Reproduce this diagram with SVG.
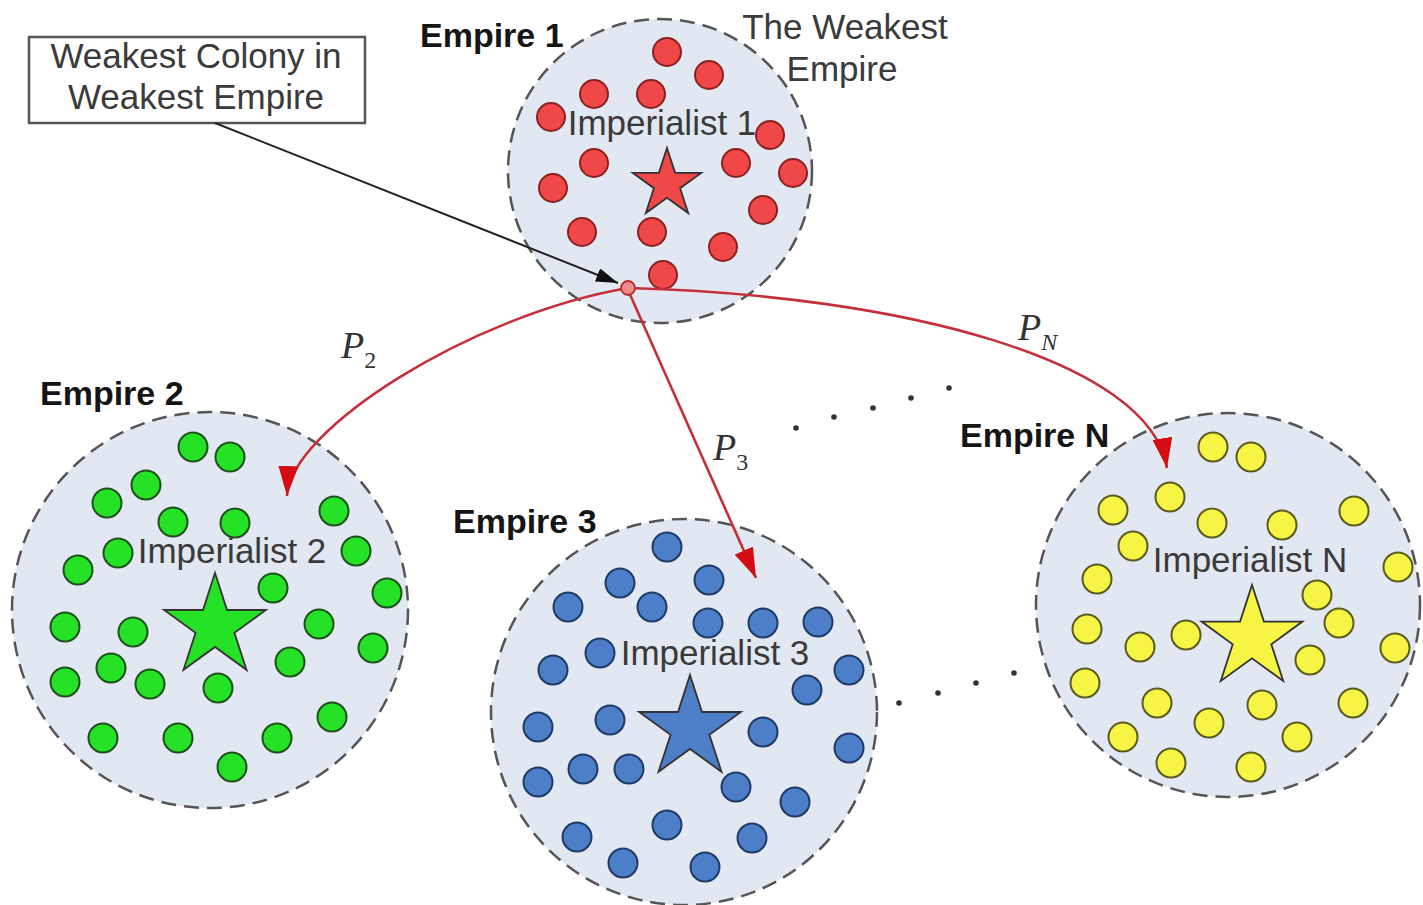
<svg xmlns="http://www.w3.org/2000/svg" width="1423" height="905" viewBox="0 0 1423 905">
<defs>
<style>
.emp{fill:#e2e8f1;stroke:#555;stroke-width:2.5;stroke-dasharray:15 8}
.r{fill:#f04848;stroke:#8a2020;stroke-width:2}
.g{fill:#26e226;stroke:#1c501c;stroke-width:2}
.b{fill:#4d7ec8;stroke:#1f3a66;stroke-width:2}
.y{fill:#f6f444;stroke:#5a5a20;stroke-width:2}
.star{stroke:#333;stroke-width:1.8;stroke-linejoin:miter}
.lbl{font-family:"Liberation Sans",Arial,sans-serif;font-size:35px;fill:#3a3a3a}
.bold{font-family:"Liberation Sans",Arial,sans-serif;font-size:34px;font-weight:bold;fill:#151515}
.math{font-family:"Liberation Serif","Times New Roman",serif;font-style:italic;font-size:38px;fill:#333}
.sub{font-size:24px}
.red{fill:none;stroke:#c4303a;stroke-width:2.6}
.dot{fill:#333}
</style>
<marker id="ah" markerUnits="userSpaceOnUse" viewBox="0 0 30 20" refX="30" refY="10" markerWidth="30" markerHeight="20" orient="auto">
<path d="M0,0 L30,10 L0,20 z" fill="#d40d12"/>
</marker>
<marker id="bh" markerUnits="userSpaceOnUse" viewBox="0 0 22 14" refX="22" refY="7" markerWidth="22" markerHeight="14" orient="auto">
<path d="M0,0 L22,7 L0,14 z" fill="#111"/>
</marker>
</defs>
<rect x="0" y="0" width="1423" height="905" fill="#fff"/>

<g id="empire1">
<circle class="emp" cx="660" cy="171" r="152"/>
<g class="r">
<circle cx="667" cy="52" r="14"/><circle cx="709" cy="75" r="14"/><circle cx="594" cy="94" r="14"/><circle cx="651" cy="94" r="14"/>
<circle cx="551" cy="117" r="14"/><circle cx="770" cy="135" r="14"/><circle cx="594" cy="163" r="14"/><circle cx="736" cy="163" r="14"/>
<circle cx="793" cy="173" r="14"/><circle cx="553" cy="188" r="14"/><circle cx="763" cy="210" r="14"/><circle cx="582" cy="232" r="14"/>
<circle cx="652" cy="232" r="14"/><circle cx="723" cy="247" r="14"/><circle cx="663" cy="275" r="14"/>
</g>
<polygon class="star" fill="#f04848" points="667,148 675.1,172.9 701.2,172.9 680.1,188.2 688.2,213.1 667,197.75 645.8,213.1 653.9,188.2 632.8,172.9 658.9,172.9"/>
<text class="lbl" x="662" y="135" text-anchor="middle">Imperialist 1</text>
<text class="bold" x="420" y="47">Empire 1</text>
<text class="lbl" x="845" y="39" text-anchor="middle">The Weakest</text>
<text class="lbl" x="842" y="81" text-anchor="middle">Empire</text>
</g>

<g id="empire2">
<circle class="emp" cx="210" cy="610" r="198"/>
<g class="g">
<circle cx="193" cy="447" r="14.5"/><circle cx="230" cy="457" r="14.5"/><circle cx="146" cy="485" r="14.5"/><circle cx="107" cy="503" r="14.5"/>
<circle cx="334" cy="511" r="14.5"/><circle cx="173" cy="522" r="14.5"/><circle cx="235" cy="523" r="14.5"/><circle cx="118" cy="553" r="14.5"/>
<circle cx="356" cy="551" r="14.5"/><circle cx="78" cy="570" r="14.5"/><circle cx="273" cy="588" r="14.5"/><circle cx="387" cy="593" r="14.5"/>
<circle cx="65" cy="627" r="14.5"/><circle cx="133" cy="632" r="14.5"/><circle cx="319" cy="624" r="14.5"/><circle cx="373" cy="648" r="14.5"/>
<circle cx="290" cy="662" r="14.5"/><circle cx="111" cy="668" r="14.5"/><circle cx="65" cy="682" r="14.5"/><circle cx="150" cy="684" r="14.5"/>
<circle cx="218" cy="688" r="14.5"/><circle cx="332" cy="717" r="14.5"/><circle cx="103" cy="738" r="14.5"/><circle cx="178" cy="738" r="14.5"/>
<circle cx="277" cy="738" r="14.5"/><circle cx="232" cy="767" r="14.5"/>
</g>
<polygon class="star" fill="#26e226" points="215,573 227,610 265.9,610 234.4,632.8 246.5,669.8 215,646.9 183.5,669.8 195.6,632.8 164.1,610 203,610"/>
<text class="lbl" x="232" y="563" text-anchor="middle">Imperialist 2</text>
<text class="bold" x="40" y="405">Empire 2</text>
</g>

<g id="empire3">
<circle class="emp" cx="684" cy="712" r="193"/>
<g class="b">
<circle cx="667" cy="547" r="14.5"/><circle cx="620" cy="583" r="14.5"/><circle cx="709" cy="580" r="14.5"/><circle cx="568" cy="607" r="14.5"/>
<circle cx="652" cy="607" r="14.5"/><circle cx="708" cy="623" r="14.5"/><circle cx="763" cy="623" r="14.5"/><circle cx="818" cy="622" r="14.5"/>
<circle cx="600" cy="653" r="14.5"/><circle cx="553" cy="670" r="14.5"/><circle cx="849" cy="670" r="14.5"/><circle cx="807" cy="690" r="14.5"/>
<circle cx="538" cy="727" r="14.5"/><circle cx="610" cy="720" r="14.5"/><circle cx="763" cy="732" r="14.5"/><circle cx="849" cy="748" r="14.5"/>
<circle cx="538" cy="782" r="14.5"/><circle cx="583" cy="769" r="14.5"/><circle cx="629" cy="769" r="14.5"/><circle cx="736" cy="787" r="14.5"/>
<circle cx="795" cy="802" r="14.5"/><circle cx="667" cy="825" r="14.5"/><circle cx="577" cy="837" r="14.5"/><circle cx="752" cy="838" r="14.5"/>
<circle cx="623" cy="863" r="14.5"/><circle cx="705" cy="867" r="14.5"/>
</g>
<polygon class="star" fill="#4d7ec8" points="690,675 702,712 740.9,712 709.4,734.8 721.5,771.8 690,748.9 658.5,771.8 670.6,734.8 639.1,712 678,712"/>
<text class="lbl" x="715" y="665" text-anchor="middle">Imperialist 3</text>
<text class="bold" x="453" y="533">Empire 3</text>
</g>

<g id="empireN">
<circle class="emp" cx="1228" cy="605" r="192"/>
<g class="y">
<circle cx="1213" cy="447" r="14.5"/><circle cx="1251" cy="457" r="14.5"/><circle cx="1170" cy="497" r="14.5"/><circle cx="1113" cy="510" r="14.5"/>
<circle cx="1354" cy="511" r="14.5"/><circle cx="1212" cy="523" r="14.5"/><circle cx="1282" cy="525" r="14.5"/><circle cx="1133" cy="546" r="14.5"/>
<circle cx="1398" cy="567" r="14.5"/><circle cx="1097" cy="579" r="14.5"/><circle cx="1317" cy="595" r="14.5"/><circle cx="1339" cy="623" r="14.5"/>
<circle cx="1087" cy="629" r="14.5"/><circle cx="1186" cy="635" r="14.5"/><circle cx="1140" cy="647" r="14.5"/><circle cx="1395" cy="648" r="14.5"/>
<circle cx="1310" cy="660" r="14.5"/><circle cx="1085" cy="683" r="14.5"/><circle cx="1157" cy="703" r="14.5"/><circle cx="1262" cy="705" r="14.5"/>
<circle cx="1353" cy="703" r="14.5"/><circle cx="1209" cy="723" r="14.5"/><circle cx="1123" cy="737" r="14.5"/><circle cx="1297" cy="737" r="14.5"/>
<circle cx="1171" cy="763" r="14.5"/><circle cx="1251" cy="767" r="14.5"/>
</g>
<polygon class="star" fill="#f6f444" points="1252,585 1263.9,621.6 1302.4,621.6 1271.3,644.3 1283.2,680.9 1252,658.25 1220.8,680.9 1232.7,644.3 1201.6,621.6 1240.1,621.6"/>
<text class="lbl" x="1250" y="572" text-anchor="middle">Imperialist N</text>
<text class="bold" x="960" y="447">Empire N</text>
</g>

<g id="callout">
<rect x="29" y="37" width="336" height="86" fill="#fff" stroke="#555" stroke-width="2.5"/>
<text class="lbl" x="196" y="68" text-anchor="middle">Weakest Colony in</text>
<text class="lbl" x="196" y="109" text-anchor="middle">Weakest Empire</text>
</g>

<g id="connectors">
<path d="M215,123 L618,283" fill="none" stroke="#222" stroke-width="2" marker-end="url(#bh)"/>
<path class="red" d="M628,288 C470,315 290,430 287,496" marker-end="url(#ah)"/>
<path class="red" d="M628,290 L756,578" marker-end="url(#ah)"/>
<path class="red" d="M628,288 C900,295 1150,360 1167,468" marker-end="url(#ah)"/>
<circle cx="628" cy="288" r="7" fill="#f08a8a" stroke="#b03030" stroke-width="1.8"/>
</g>

<g id="labels">
<text class="math" x="341" y="358">P<tspan class="sub" font-style="normal" dy="10">2</tspan></text>
<text class="math" x="713" y="460">P<tspan class="sub" font-style="normal" dy="10">3</tspan></text>
<text class="math" x="1018" y="340">P<tspan class="sub" dy="10">N</tspan></text>
</g>

<g id="ellipsis">
<circle class="dot" cx="796" cy="428" r="2.8"/><circle class="dot" cx="834" cy="417" r="2.8"/><circle class="dot" cx="873" cy="408" r="2.8"/><circle class="dot" cx="911" cy="398" r="2.8"/><circle class="dot" cx="949" cy="388" r="2.8"/>
<circle class="dot" cx="899" cy="703" r="2.8"/><circle class="dot" cx="938" cy="693" r="2.8"/><circle class="dot" cx="976" cy="683" r="2.8"/><circle class="dot" cx="1014" cy="673" r="2.8"/>
</g>
</svg>
